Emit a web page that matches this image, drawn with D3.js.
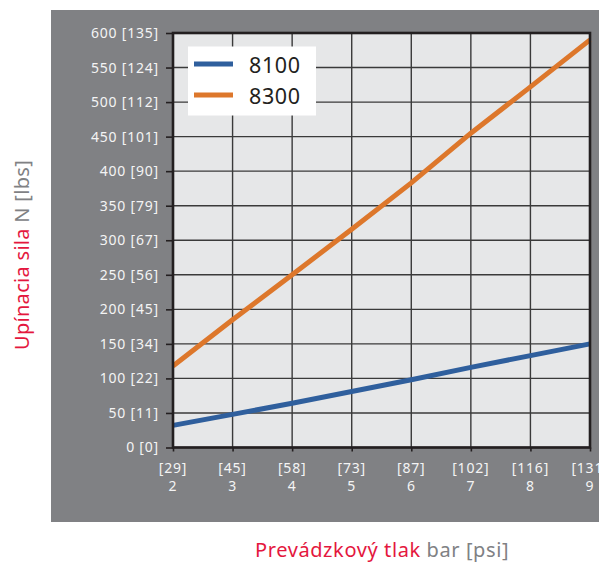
<!DOCTYPE html>
<html>
<head>
<meta charset="utf-8">
<script src="https://cdn.jsdelivr.net/npm/d3@7"></script>
<style>
  html, body { margin: 0; padding: 0; background: #ffffff; }
  svg { display: block; font-family: "Noto Sans", "DejaVu Sans", sans-serif; }
</style>
</head>
<body>
<div id="chart"></div>
<script>
// Operating pressure (bar) and its psi equivalent
const pressureBar = [2, 3, 4, 5, 6, 7, 8, 9];
const pressurePsi = [29, 45, 58, 73, 87, 102, 116, 131];

// Clamping force (N) and its lbs equivalent for the y ticks
const forceTicksN = [0, 50, 100, 150, 200, 250, 300, 350, 400, 450, 500, 550, 600];
const forceTicksLbs = [0, 11, 22, 34, 45, 56, 67, 79, 90, 101, 112, 124, 135];

// Clamping force per model, one value per pressure step
const seriesNames = ["8100", "8300"];
const force8100 = [32, 48, 64, 81, 98, 116, 133, 150];
const force8300 = [118, 185, 250, 316, 383, 455, 522, 590];
const seriesColors = ["#2f5f9d", "#dd772b"];

const W = 599, H = 562;
const svg = d3.select("#chart").append("svg").attr("width", W).attr("height", H);

// grey panel
svg.append("rect").attr("x", 51).attr("y", 10).attr("width", W - 51).attr("height", 512)
  .attr("fill", "#808184");

const x = d3.scaleLinear().domain([2, 9]).range([173, 590]);
const y = d3.scaleLinear().domain([0, 600]).range([447.5, 33]);

// plot background
svg.append("rect").attr("x", x(2)).attr("y", y(600))
  .attr("width", x(9) - x(2)).attr("height", y(0) - y(600))
  .attr("fill", "#e6e7e8");

// grid
const grid = svg.append("g").attr("stroke", "#3a3a3a").attr("stroke-width", 1.4);
grid.selectAll("line.v").data(pressureBar).join("line")
  .attr("x1", d => x(d)).attr("x2", d => x(d))
  .attr("y1", y(600)).attr("y2", y(0));
grid.selectAll("line.h").data(forceTicksN).join("line")
  .attr("x1", x(2)).attr("x2", x(9))
  .attr("y1", d => y(d)).attr("y2", d => y(d));

// y axis ticks and labels
const yAxis = d3.axisLeft(y).tickValues(forceTicksN).tickSize(7).tickPadding(7)
  .tickFormat((d, i) => `${d} [${forceTicksLbs[i]}]`);
const gy = svg.append("g").attr("transform", `translate(${x(2)},0)`).call(yAxis);
gy.select(".domain").remove();
gy.selectAll(".tick line").attr("stroke", "#231f20").attr("stroke-width", 1.6);
gy.selectAll(".tick text").attr("fill", "#f4f4f4").attr("font-size", 14)
  .attr("letter-spacing", "0.8px").style("font-family", "'Noto Sans', sans-serif");

// x axis ticks and two-line labels
const xAxis = d3.axisBottom(x).tickValues(pressureBar).tickSize(4).tickFormat("");
const gx = svg.append("g").attr("transform", `translate(0,${y(0)})`).call(xAxis);
gx.select(".domain").remove();
gx.selectAll(".tick line").attr("stroke", "#231f20").attr("stroke-width", 1.6);
const xl = svg.append("g").attr("fill", "#f4f4f4").attr("font-size", 14)
  .attr("text-anchor", "middle").attr("letter-spacing", "0.8px");
xl.selectAll("text.psi").data(pressureBar).join("text")
  .attr("x", d => x(d)).attr("y", 473)
  .text((d, i) => `[${pressurePsi[i]}]`);
xl.selectAll("text.bar").data(pressureBar).join("text")
  .attr("x", d => x(d)).attr("y", 491)
  .text(d => d);

// series lines
const line = d3.line().x((d, i) => x(pressureBar[i])).y(d => y(d));
[force8100, force8300].forEach((vals, k) => {
  svg.append("path").datum(vals).attr("d", line)
    .attr("fill", "none").attr("stroke", seriesColors[k]).attr("stroke-width", 5);
});

// plot frame
svg.append("rect").attr("x", x(2)).attr("y", y(600))
  .attr("width", x(9) - x(2)).attr("height", y(0) - y(600))
  .attr("fill", "none").attr("stroke", "#231f20").attr("stroke-width", 2.6);

// legend
const lg = svg.append("g");
lg.append("rect").attr("x", 188).attr("y", 46.5).attr("width", 128).attr("height", 69)
  .attr("fill", "#ffffff");
seriesNames.forEach((name, k) => {
  const cy = 64 + k * 31;
  lg.append("line").attr("x1", 194).attr("x2", 233).attr("y1", cy).attr("y2", cy)
    .attr("stroke", seriesColors[k]).attr("stroke-width", 5);
  lg.append("text").attr("x", 249).attr("y", cy + 8.5).attr("font-size", 21.5)
    .attr("fill", "#231f20").attr("letter-spacing", "0.6px").text(name);
});

// axis titles
const xt = svg.append("text").attr("x", 255).attr("y", 557).attr("font-size", 20)
  .attr("letter-spacing", "0.6px");
xt.append("tspan").attr("fill", "#e4173e").text("Prevádzkový tlak ");
xt.append("tspan").attr("fill", "#808184").text("bar [psi]");

const yt = svg.append("text").attr("transform", "translate(29,255) rotate(-90)")
  .attr("text-anchor", "middle").attr("font-size", 20).attr("letter-spacing", "0.3px");
yt.append("tspan").attr("fill", "#e4173e").text("Upínacia sila ");
yt.append("tspan").attr("fill", "#808184").text("N [lbs]");
</script>
</body>
</html>
